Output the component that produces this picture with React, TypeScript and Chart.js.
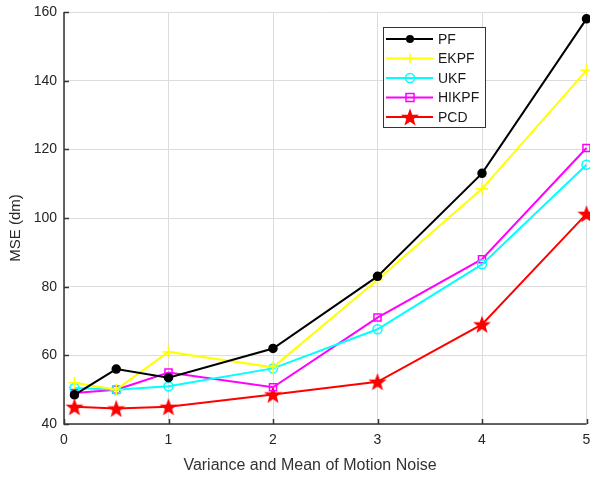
import React, { useEffect, useRef } from 'react';
import { Chart, registerables } from 'chart.js';
Chart.register(...registerables);

const xValues = [0.1, 0.5, 1, 2, 3, 4, 5];
const pf = [48.5, 56, 53.5, 62, 83, 113, 158];
const ekpf = [52, 50, 61, 56.5, 82, 108.5, 143];
const ukf = [50.5, 50, 51, 56.2, 67.6, 86.5, 115.5];
const hikpf = [49, 50, 55, 50.7, 71, 88, 120.4];
const pcd = [45, 44.5, 45, 48.6, 52.3, 69, 101.2];
const seriesNames = ['PF', 'EKPF', 'UKF', 'HIKPF', 'PCD'];
const seriesColors = ['#000000', '#ffff00', '#00ffff', '#ff00ff', '#ff0000'];
const xTitle = 'Variance and Mean of Motion Noise';
const yTitle = 'MSE (dm)';

function starPath(ctx: CanvasRenderingContext2D, cx: number, cy: number, R: number, r: number) {
  ctx.beginPath();
  for (let i = 0; i < 10; i++) {
    const rad = i % 2 === 0 ? R : r;
    const a = -Math.PI / 2 + (i * Math.PI) / 5;
    const x = cx + rad * Math.cos(a);
    const y = cy + rad * Math.sin(a);
    if (i === 0) ctx.moveTo(x, y);
    else ctx.lineTo(x, y);
  }
  ctx.closePath();
}

function makeStar(color: string) {
  const c = document.createElement('canvas');
  c.width = 20;
  c.height = 20;
  const ctx = c.getContext('2d')!;
  starPath(ctx, 10, 10.8, 9.5, 3.9);
  ctx.fillStyle = color;
  ctx.fill();
  return c;
}

function drawMarker(ctx: CanvasRenderingContext2D, kind: number, x: number, y: number, color: string) {
  ctx.save();
  ctx.strokeStyle = color;
  ctx.fillStyle = color;
  ctx.lineWidth = 1.5;
  if (kind === 0) {
    ctx.beginPath();
    ctx.arc(x, y, 4, 0, Math.PI * 2);
    ctx.fill();
  } else if (kind === 1) {
    ctx.beginPath();
    ctx.moveTo(x, y - 5);
    ctx.lineTo(x, y + 5);
    ctx.moveTo(x - 5, y);
    ctx.lineTo(x + 5, y);
    ctx.stroke();
  } else if (kind === 2) {
    ctx.beginPath();
    ctx.arc(x, y, 4.5, 0, Math.PI * 2);
    ctx.stroke();
  } else if (kind === 3) {
    ctx.strokeRect(x - 4, y - 4, 8, 8);
  } else {
    starPath(ctx, x, y + 0.8, 9.5, 3.9);
    ctx.fill();
  }
  ctx.restore();
}

const legendPlugin = {
  id: 'boxLegend',
  afterDatasetsDraw(chart: any) {
    const ctx: CanvasRenderingContext2D = chart.ctx;
    const bx = 383, by = 27, bw = 102, bh = 100;
    ctx.save();
    ctx.fillStyle = '#ffffff';
    ctx.fillRect(bx, by, bw, bh);
    ctx.strokeStyle = '#333333';
    ctx.lineWidth = 1;
    ctx.strokeRect(bx + 0.5, by + 0.5, bw, bh);
    ctx.font = '14px "Liberation Sans", Arial, sans-serif';
    ctx.textBaseline = 'middle';
    seriesNames.forEach((name, i) => {
      const y = by + 12 + i * 19.5;
      ctx.strokeStyle = seriesColors[i];
      ctx.lineWidth = 2;
      ctx.beginPath();
      ctx.moveTo(bx + 3, y);
      ctx.lineTo(bx + 50, y);
      ctx.stroke();
      drawMarker(ctx, i, bx + 27, y, seriesColors[i]);
      ctx.fillStyle = '#1a1a1a';
      ctx.fillText(name, bx + 55, y + 1);
    });
    ctx.restore();
  },
};

const tickPlugin = {
  id: 'innerTicks',
  afterDraw(chart: any) {
    const ctx: CanvasRenderingContext2D = chart.ctx;
    const { left, bottom, top } = chart.chartArea;
    const xs = chart.scales.x;
    const ys = chart.scales.y;
    ctx.save();
    ctx.strokeStyle = '#333333';
    ctx.lineWidth = 1.5;
    ctx.beginPath();
    ys.ticks.forEach((t: any) => {
      const y = Math.round(ys.getPixelForValue(t.value)) + 0.5;
      ctx.moveTo(left, y);
      ctx.lineTo(left + 5, y);
    });
    xs.ticks.forEach((t: any) => {
      const x = Math.round(xs.getPixelForValue(t.value)) + 0.5;
      ctx.moveTo(x, bottom);
      ctx.lineTo(x, bottom - 5);
    });
    ctx.moveTo(left, top);
    ctx.lineTo(left, bottom);
    ctx.lineTo(chart.chartArea.right, bottom);
    ctx.stroke();
    // axis titles
    ctx.font = '16px "Liberation Sans", Arial, sans-serif';
    ctx.fillStyle = '#333333';
    ctx.textAlign = 'center';
    ctx.textBaseline = 'middle';
    ctx.fillText(xTitle, 310, 466);
    ctx.font = '15px "Liberation Sans", Arial, sans-serif';
    ctx.fillStyle = '#262626';
    ctx.translate(16, 228);
    ctx.rotate(-Math.PI / 2);
    ctx.fillText(yTitle, 0, 0);
    ctx.restore();
  },
};

export default function App() {
  const ref = useRef<HTMLCanvasElement>(null);
  useEffect(() => {
    const star = makeStar('#ff0000');
    const data = [pf, ekpf, ukf, hikpf, pcd];
    const styles: any[] = ['circle', 'cross', 'circle', 'rect', star];
    const datasets = data.map((vals, i) => ({
      label: seriesNames[i],
      data: vals.map((v, j) => ({ x: xValues[j], y: v })),
      borderColor: seriesColors[i],
      backgroundColor: i === 0 ? '#000000' : i === 4 ? '#ff0000' : 'rgba(0,0,0,0)',
      pointBorderColor: seriesColors[i],
      pointBackgroundColor: i === 0 ? '#000000' : 'rgba(0,0,0,0)',
      pointStyle: styles[i],
      pointRadius: i === 1 ? 6 : i === 3 ? 5 : i === 0 ? 4 : 4.5,
      pointBorderWidth: 1.5,
      borderWidth: 2,
      tension: 0,
      clip: false as any,
    }));
    const font = { family: '"Liberation Sans", Arial, sans-serif', size: 14 };
    const chart = new Chart(ref.current!, {
      type: 'line',
      data: { datasets },
      options: {
        animation: false,
        responsive: false,
        maintainAspectRatio: false,
        layout: { padding: { left: 0, top: 12, right: 0, bottom: 0 } },
        plugins: { legend: { display: false }, tooltip: { enabled: false } },
        scales: {
          x: {
            type: 'linear',
            min: 0,
            max: 5,
            ticks: { stepSize: 1, color: '#262626', font, padding: 8 },
            grid: { color: '#dcdcdc', drawTicks: false, lineWidth: 1 },
            border: { display: false },
            title: { display: false, text: xTitle },
            afterFit: (s: any) => { s.height = 53; s.paddingLeft = 0; s.paddingRight = 0; },
          },
          y: {
            min: 40,
            max: 160,
            ticks: { stepSize: 20, color: '#262626', font, padding: 7 },
            grid: { color: '#dcdcdc', drawTicks: false, lineWidth: 1 },
            border: { display: false },
            title: { display: false, text: yTitle },
            afterFit: (s: any) => { s.width = 64; s.paddingTop = 0; s.paddingBottom = 0; },
          },
        },
      },
      plugins: [tickPlugin, legendPlugin],
    } as any);
    return () => chart.destroy();
  }, []);
  return (
    <div style={{ position: 'fixed', left: 0, top: 0, width: 590, height: 477, overflow: 'hidden', background: '#fff' }}>
      <canvas ref={ref} width={594} height={477} style={{ width: 594, height: 477, display: 'block' }} />
    </div>
  );
}
